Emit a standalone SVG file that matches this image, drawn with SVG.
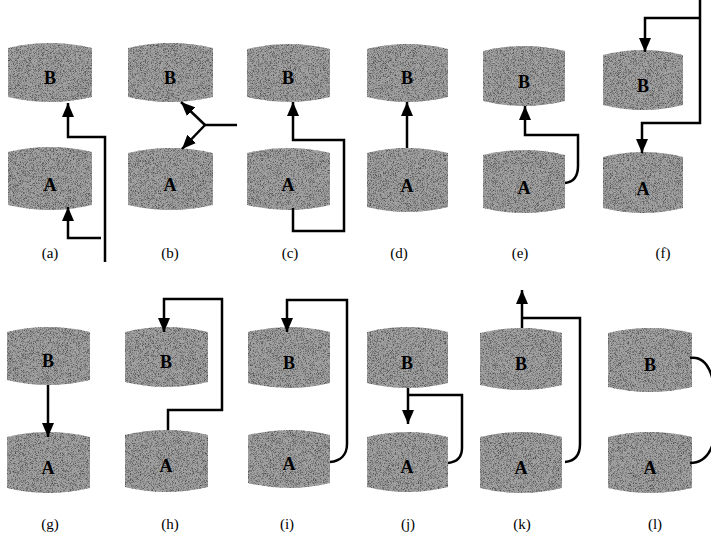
<svg xmlns="http://www.w3.org/2000/svg" width="711" height="542" viewBox="0 0 711 542">
<defs>
<filter id="grain" x="0" y="0" width="1" height="1" color-interpolation-filters="sRGB">
<feTurbulence type="fractalNoise" baseFrequency="1.4" numOctaves="1" seed="4" result="n"/>
<feColorMatrix in="n" type="matrix" values="0 0 0 0 0.28  0 0 0 0 0.28  0 0 0 0 0.28  3 0 0 0 -1.35" result="dots"/>
<feComposite in="dots" in2="SourceGraphic" operator="in" result="d2"/>
<feMerge><feMergeNode in="SourceGraphic"/><feMergeNode in="d2"/></feMerge>
</filter>
<marker id="ah" viewBox="0 0 14 12" refX="14" refY="6" markerWidth="14" markerHeight="12" markerUnits="userSpaceOnUse" orient="auto">
<path d="M0,0 L14,6 L0,12 Z" fill="#000"/>
</marker>
</defs>
<style>
.cyl{fill:#a2a2a2;filter:url(#grain)}
.lt{font-family:"Liberation Serif",serif;font-weight:bold;font-size:18px;fill:#000;text-anchor:middle}
.cap{font-family:"Liberation Serif",serif;font-size:15px;fill:#000;text-anchor:middle}
.c path{fill:none;stroke:#000;stroke-width:2.5;stroke-linejoin:miter}
.arr{marker-end:url(#ah)}
</style>

<!-- row 1 -->
<g id="a-B"><path class="cyl" d="M8,48 Q50,38 92,48 L92,97 Q50,107 8,97 Z"/><text class="lt" x="50" y="84">B</text></g>
<g id="a-A"><path class="cyl" d="M8,152 Q50,142 92,152 L92,205 Q50,215 8,205 Z"/><text class="lt" x="50" y="191">A</text></g>
<g id="b-B"><path class="cyl" d="M128,48 Q170,38 213,48 L213,97 Q170,107 128,97 Z"/><text class="lt" x="170" y="84">B</text></g>
<g id="b-A"><path class="cyl" d="M128,153 Q170,143 213,153 L213,205 Q170,215 128,205 Z"/><text class="lt" x="170" y="191">A</text></g>
<g id="c-B"><path class="cyl" d="M247,49 Q288,39 330,49 L330,97 Q288,107 247,97 Z"/><text class="lt" x="288" y="84">B</text></g>
<g id="c-A"><path class="cyl" d="M247,153 Q288,143 330,153 L330,205 Q288,215 247,205 Z"/><text class="lt" x="288" y="191">A</text></g>
<g id="d-B"><path class="cyl" d="M367,49 Q407,39 448,49 L448,97 Q407,107 367,97 Z"/><text class="lt" x="407" y="84">B</text></g>
<g id="d-A"><path class="cyl" d="M367,153 Q407,143 448,153 L448,207 Q407,217 367,207 Z"/><text class="lt" x="407" y="192">A</text></g>
<g id="e-B"><path class="cyl" d="M483,51 Q524,41 565,51 L565,101 Q524,111 483,101 Z"/><text class="lt" x="524" y="88">B</text></g>
<g id="e-A"><path class="cyl" d="M483,155 Q524,145 565,155 L565,208 Q524,218 483,208 Z"/><text class="lt" x="524" y="194">A</text></g>
<g id="f-B"><path class="cyl" d="M603,55 Q643,45 683,55 L683,105 Q643,115 603,105 Z"/><text class="lt" x="643" y="92">B</text></g>
<g id="f-A"><path class="cyl" d="M603,157 Q643,147 683,157 L683,208 Q643,218 603,208 Z"/><text class="lt" x="643" y="195">A</text></g>

<!-- row 2 -->
<g id="g-B"><path class="cyl" d="M7,332 Q48,322 90,332 L90,380 Q48,390 7,380 Z"/><text class="lt" x="48" y="367">B</text></g>
<g id="g-A"><path class="cyl" d="M7,437 Q48,427 90,437 L90,488 Q48,498 7,488 Z"/><text class="lt" x="48" y="474">A</text></g>
<g id="h-B"><path class="cyl" d="M125,332 Q166,322 208,332 L208,382 Q166,392 125,382 Z"/><text class="lt" x="166" y="368">B</text></g>
<g id="h-A"><path class="cyl" d="M125,435 Q166,425 208,435 L208,487 Q166,497 125,487 Z"/><text class="lt" x="166" y="472">A</text></g>
<g id="i-B"><path class="cyl" d="M248,332 Q289,322 330,332 L330,383 Q289,393 248,383 Z"/><text class="lt" x="289" y="369">B</text></g>
<g id="i-A"><path class="cyl" d="M248,435 Q289,425 330,435 L330,483 Q289,493 248,483 Z"/><text class="lt" x="289" y="470">A</text></g>
<g id="j-B"><path class="cyl" d="M367,332 Q407,322 448,332 L448,383 Q407,393 367,383 Z"/><text class="lt" x="407" y="369">B</text></g>
<g id="j-A"><path class="cyl" d="M367,437 Q407,427 448,437 L448,487 Q407,497 367,487 Z"/><text class="lt" x="407" y="473">A</text></g>
<g id="k-B"><path class="cyl" d="M480,333 Q521,323 562,333 L562,385 Q521,395 480,385 Z"/><text class="lt" x="521" y="370">B</text></g>
<g id="k-A"><path class="cyl" d="M480,437 Q521,427 562,437 L562,488 Q521,498 480,488 Z"/><text class="lt" x="521" y="474">A</text></g>
<g id="l-B"><path class="cyl" d="M608,333 Q650,323 692,333 L692,387 Q650,397 608,387 Z"/><text class="lt" x="650" y="371">B</text></g>
<g id="l-A"><path class="cyl" d="M608,437 Q650,427 692,437 L692,488 Q650,498 608,488 Z"/><text class="lt" x="650" y="474">A</text></g>

<g id="connectors" class="c">
<path class="arr" d="M105,262 L105,137 L68,137 L68,103"/>
<path class="arr" d="M101,238 L68,238 L68,207"/>
<path d="M237,125 L205,125"/>
<path class="arr" d="M205,125 L181,102"/>
<path class="arr" d="M205,125 L182,149"/>
<path class="arr" d="M293,208 L293,231 L344,231 L344,140 L293,140 L293,102"/>
<path class="arr" d="M407,148 L407,102"/>
<path class="arr" d="M565,183 C574,182 578,176 578,166 L578,135 L525,135 L525,106"/>
<path class="arr" d="M700,0 L700,123 L642,123 L642,153"/>
<path class="arr" d="M700,18 L645,18 L645,52"/>
<path class="arr" d="M48,385 L48,437"/>
<path class="arr" d="M168,430 L168,410 L222,410 L222,299 L164,299 L164,332"/>
<path class="arr" d="M330,462 C340,461 347,455 347,444 L347,300 L287,300 L287,332"/>
<path d="M448,463 C457,462 462,457 462,448 L462,395 L408,395"/>
<path class="arr" d="M408,388 L408,424"/>
<path d="M565,462 C575,461 580,455 580,444 L580,318 L522,318"/>
<path class="arr" d="M522,328 L522,290"/>
<path d="M690,358 C704,356 711,368 714,386"/>
<path d="M690,463 C704,463 711,452 714,440"/>
</g>

<g id="captions">
<text class="cap" x="50" y="258">(a)</text>
<text class="cap" x="170" y="258">(b)</text>
<text class="cap" x="290" y="258">(c)</text>
<text class="cap" x="399" y="258">(d)</text>
<text class="cap" x="520" y="258">(e)</text>
<text class="cap" x="663" y="258">(f)</text>
<text class="cap" x="50" y="529">(g)</text>
<text class="cap" x="170" y="529">(h)</text>
<text class="cap" x="287" y="529">(i)</text>
<text class="cap" x="408" y="529">(j)</text>
<text class="cap" x="522" y="529">(k)</text>
<text class="cap" x="655" y="529">(l)</text>
</g>
</svg>
